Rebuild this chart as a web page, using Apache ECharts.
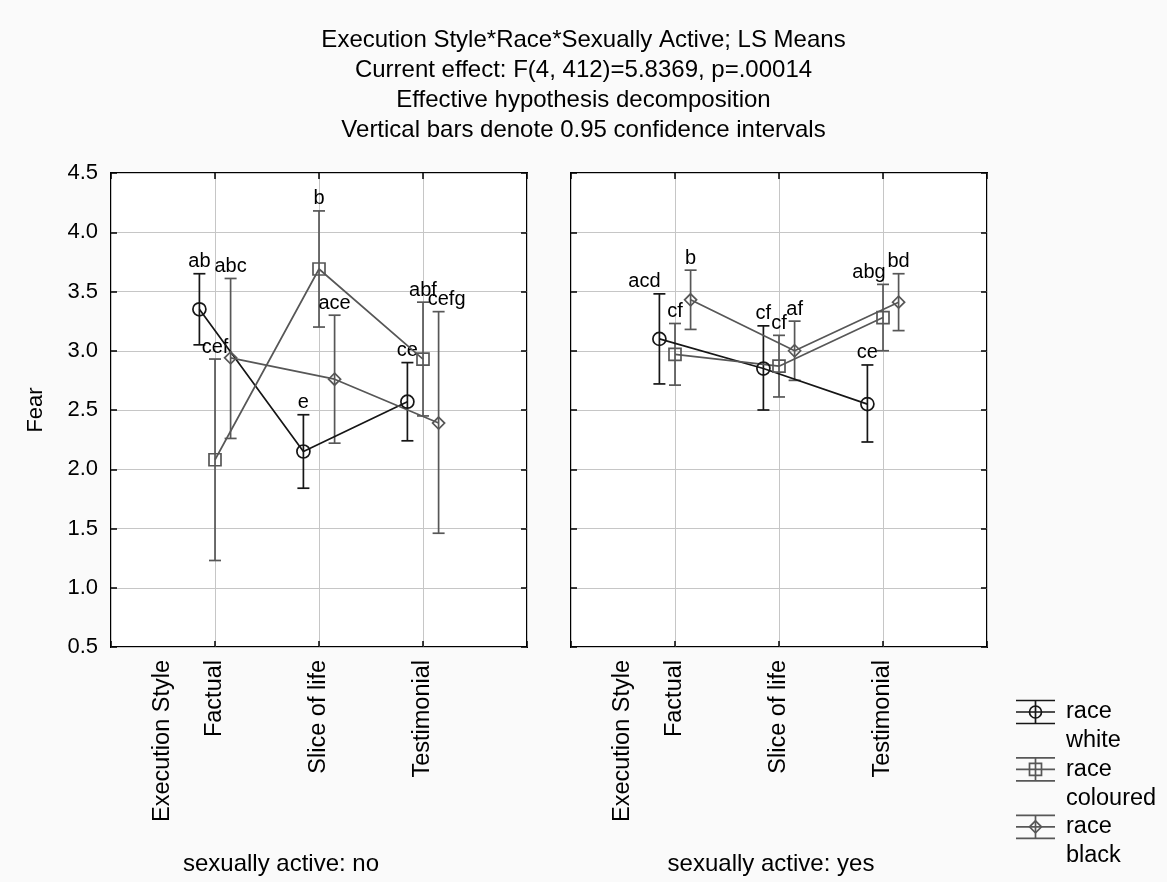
<!DOCTYPE html>
<html>
<head>
<meta charset="utf-8">
<script src="https://cdn.jsdelivr.net/npm/echarts@6/dist/echarts.min.js"></script>
<style>
  html, body { margin: 0; padding: 0; background: #fafafa; }
  #chart { width: 1167px; height: 882px; }
</style>
</head>
<body>
<div id="chart"></div>
<script>
// Execution style categories and the x tick labels
const categories = ['Factual', 'Slice of life', 'Testimonial'];
const xAxisTitle = 'Execution Style';
const yTickValues = [0.5, 1.0, 1.5, 2.0, 2.5, 3.0, 3.5, 4.0, 4.5];
const panelNames = ['sexually active: no', 'sexually active: yes'];
const raceNames = ['white', 'coloured', 'black'];

// Sexually active: no — LS means and 0.95 confidence limits
const noWhiteMean = [3.35, 2.15, 2.57];
const noWhiteLow = [3.05, 1.84, 2.24];
const noWhiteHigh = [3.65, 2.46, 2.90];
const noWhiteTags = ['ab', 'e', 'ce'];

const noColouredMean = [2.08, 3.69, 2.93];
const noColouredLow = [1.23, 3.20, 2.45];
const noColouredHigh = [2.93, 4.18, 3.41];
const noColouredTags = ['cef', 'b', 'abf'];

const noBlackMean = [2.94, 2.76, 2.39];
const noBlackLow = [2.26, 2.22, 1.46];
const noBlackHigh = [3.61, 3.30, 3.33];
const noBlackTags = ['abc', 'ace', 'cefg'];

// Sexually active: yes
const yesWhiteMean = [3.10, 2.85, 2.55];
const yesWhiteLow = [2.72, 2.50, 2.23];
const yesWhiteHigh = [3.48, 3.21, 2.88];
const yesWhiteTags = ['acd', 'cf', 'ce'];

const yesColouredMean = [2.97, 2.87, 3.28];
const yesColouredLow = [2.71, 2.61, 3.00];
const yesColouredHigh = [3.23, 3.13, 3.56];
const yesColouredTags = ['cf', 'cf', 'abg'];

const yesBlackMean = [3.43, 3.00, 3.41];
const yesBlackLow = [3.18, 2.75, 3.17];
const yesBlackHigh = [3.68, 3.25, 3.65];
const yesBlackTags = ['b', 'af', 'bd'];

// ---- styling ----
const FONT = '"Liberation Sans", Arial, Helvetica, sans-serif';
const raceStyle = [
  { color: '#161616', symbol: 'circle', size: 13, shift: -0.15 },
  { color: '#575757', symbol: 'rect', size: 12, shift: 0 },
  { color: '#575757', symbol: 'diamond', size: 12, shift: 0.15 }
];
// horizontal nudges (px) for tags that would otherwise collide
const tagNudge = {
  '0-2-2': 8,
  '1-0-0': -15,
  '1-1-2': -14
};

const panels = [
  {
    left: 111,
    races: [
      [noWhiteMean, noWhiteLow, noWhiteHigh, noWhiteTags],
      [noColouredMean, noColouredLow, noColouredHigh, noColouredTags],
      [noBlackMean, noBlackLow, noBlackHigh, noBlackTags]
    ]
  },
  {
    left: 571,
    races: [
      [yesWhiteMean, yesWhiteLow, yesWhiteHigh, yesWhiteTags],
      [yesColouredMean, yesColouredLow, yesColouredHigh, yesColouredTags],
      [yesBlackMean, yesBlackLow, yesBlackHigh, yesBlackTags]
    ]
  }
];

const grids = [], xAxes = [], yAxes = [], series = [];
const GRID_W = 416, GRID_TOP = 173, GRID_BOTTOM = 235;
const tickStyle = { show: true, inside: true, length: 6, lineStyle: { color: '#000', width: 1.5 } };
const noLine = { show: false, onZero: false };

panels.forEach((p, g) => {
  grids.push({
    left: p.left, width: GRID_W, top: GRID_TOP, bottom: GRID_BOTTOM,
    show: true, backgroundColor: '#ffffff', borderColor: '#000', borderWidth: 2
  });
  // bottom axis with category names
  xAxes.push({
    gridIndex: g, type: 'value', min: 0, max: 4, interval: 1, position: 'bottom',
    axisLine: noLine,
    axisTick: tickStyle,
    axisLabel: {
      rotate: 90, margin: 13, fontSize: 23.5, fontFamily: FONT, color: '#000',
      formatter: v => categories[v - 1] || ''
    },
    splitLine: { show: true, lineStyle: { color: '#c6c6c6', width: 1 } }
  });
  // bottom axis carrying the factor name
  xAxes.push({
    gridIndex: g, type: 'value', min: 0, max: 4, interval: 0.5, position: 'bottom',
    axisLine: noLine, axisTick: { show: false }, splitLine: { show: false },
    axisLabel: {
      rotate: 90, margin: 13, fontSize: 23.5, fontFamily: FONT, color: '#000',
      formatter: v => (v === 0.5 ? xAxisTitle : '')
    }
  });
  // top axis: inward ticks only
  xAxes.push({
    gridIndex: g, type: 'value', min: 0, max: 4, interval: 1, position: 'top',
    axisLine: noLine, axisLabel: { show: false }, splitLine: { show: false },
    axisTick: tickStyle
  });

  yAxes.push({
    gridIndex: g, type: 'value', min: 0.5, max: 4.5, interval: 0.5, position: 'left',
    name: g === 0 ? 'Fear' : '', nameLocation: 'middle', nameGap: 64,
    nameTextStyle: { fontSize: 22, fontFamily: FONT, color: '#000' },
    axisLine: noLine,
    axisTick: tickStyle,
    axisLabel: {
      show: g === 0, margin: 13, fontSize: 22, fontFamily: FONT, color: '#000',
      formatter: v => yTickValues.includes(v) ? v.toFixed(1) : ''
    },
    splitLine: { show: true, lineStyle: { color: '#c6c6c6', width: 1 } }
  });
  yAxes.push({
    gridIndex: g, type: 'value', min: 0.5, max: 4.5, interval: 0.5, position: 'right',
    axisLine: noLine, axisLabel: { show: false }, splitLine: { show: false },
    axisTick: tickStyle
  });

  p.races.forEach(([mean, low, high, tags], r) => {
    const st = raceStyle[r];
    const xs = categories.map((c, i) => i + 1 + st.shift);
    // confidence interval whiskers with their letter tags
    series.push({
      type: 'custom',
      name: 'race ' + raceNames[r],
      xAxisIndex: g * 3, yAxisIndex: g * 2,
      z: 3,
      data: xs.map((x, i) => [x, low[i], high[i], i]),
      renderItem: (params, api) => {
        const x = api.value(0);
        const lo = api.coord([x, api.value(1)]);
        const hi = api.coord([x, api.value(2)]);
        const i = api.value(3);
        const cap = 6;
        const ls = { stroke: st.color, lineWidth: 1.7 };
        const nudge = tagNudge[g + '-' + r + '-' + i] || 0;
        return {
          type: 'group',
          children: [
            { type: 'line', shape: { x1: lo[0], y1: lo[1], x2: hi[0], y2: hi[1] }, style: ls },
            { type: 'line', shape: { x1: lo[0] - cap, y1: lo[1], x2: lo[0] + cap, y2: lo[1] }, style: ls },
            { type: 'line', shape: { x1: hi[0] - cap, y1: hi[1], x2: hi[0] + cap, y2: hi[1] }, style: ls },
            {
              type: 'text', x: hi[0] + nudge, y: hi[1] - 2,
              style: {
                text: tags[i], fill: '#000', fontSize: 20, fontFamily: FONT,
                textAlign: 'center', textVerticalAlign: 'bottom', align: 'center', verticalAlign: 'bottom'
              }
            }
          ]
        };
      }
    });
    // LS means joined across execution styles
    series.push({
      type: 'line',
      name: 'race ' + raceNames[r],
      xAxisIndex: g * 3, yAxisIndex: g * 2,
      z: 4,
      data: xs.map((x, i) => [x, mean[i]]),
      symbol: st.symbol, symbolSize: st.size,
      lineStyle: { color: st.color, width: 1.7 },
      itemStyle: { color: 'rgba(255,255,255,0)', borderColor: st.color, borderWidth: 1.7 },
      emphasis: { disabled: true }
    });
  });
});

// legend drawn as whisker glyphs
const legendItems = [];
raceNames.forEach((name, r) => {
  const st = raceStyle[r];
  const cy = 712 + r * 57.4;
  const x0 = 1016, x1 = 1055, cx = 1035.5, h = 11.5, m = 6;
  const ls = { stroke: st.color, lineWidth: 1.7, fill: null };
  const hollow = { stroke: st.color, lineWidth: 1.7, fill: 'rgba(0,0,0,0)' };
  legendItems.push(
    { type: 'line', shape: { x1: x0, y1: cy - h, x2: x1, y2: cy - h }, style: ls },
    { type: 'line', shape: { x1: x0, y1: cy, x2: x1, y2: cy }, style: ls },
    { type: 'line', shape: { x1: x0, y1: cy + h, x2: x1, y2: cy + h }, style: ls },
    { type: 'line', shape: { x1: cx, y1: cy - h, x2: cx, y2: cy + h }, style: ls }
  );
  if (st.symbol === 'circle') {
    legendItems.push({ type: 'circle', shape: { cx, cy, r: m }, style: hollow });
  } else if (st.symbol === 'rect') {
    legendItems.push({ type: 'rect', shape: { x: cx - m, y: cy - m, width: 2 * m, height: 2 * m }, style: hollow });
  } else {
    legendItems.push({ type: 'polygon', shape: { points: [[cx, cy - m], [cx + m, cy], [cx, cy + m], [cx - m, cy]] }, style: hollow });
  }
  legendItems.push({
    type: 'text', x: 1066, y: cy - 14.5,
    style: { text: 'race\n' + name, fill: '#000', fontSize: 23.5, fontFamily: FONT, lineHeight: 29, textVerticalAlign: 'top', verticalAlign: 'top' }
  });
});

const chart = echarts.init(document.getElementById('chart'), null, { renderer: 'canvas' });
chart.setOption({
  backgroundColor: '#fafafa',
  animation: false,
  title: {
    text: 'Execution Style*Race*Sexually Active; LS Means\nCurrent effect: F(4, 412)=5.8369, p=.00014\nEffective hypothesis decomposition\nVertical bars denote 0.95 confidence intervals',
    left: 'center', top: 20,
    textStyle: { fontSize: 24, fontWeight: 'normal', fontFamily: FONT, color: '#000', lineHeight: 30 }
  },
  grid: grids,
  xAxis: xAxes,
  yAxis: yAxes,
  series,
  graphic: [
    { type: 'text', x: 281, y: 864, style: { text: panelNames[0], fill: '#000', fontSize: 24, fontFamily: FONT, textAlign: 'center', textVerticalAlign: 'middle', align: 'center', verticalAlign: 'middle' } },
    { type: 'text', x: 771, y: 864, style: { text: panelNames[1], fill: '#000', fontSize: 24, fontFamily: FONT, textAlign: 'center', textVerticalAlign: 'middle', align: 'center', verticalAlign: 'middle' } },
    ...legendItems
  ]
});
</script>
</body>
</html>
